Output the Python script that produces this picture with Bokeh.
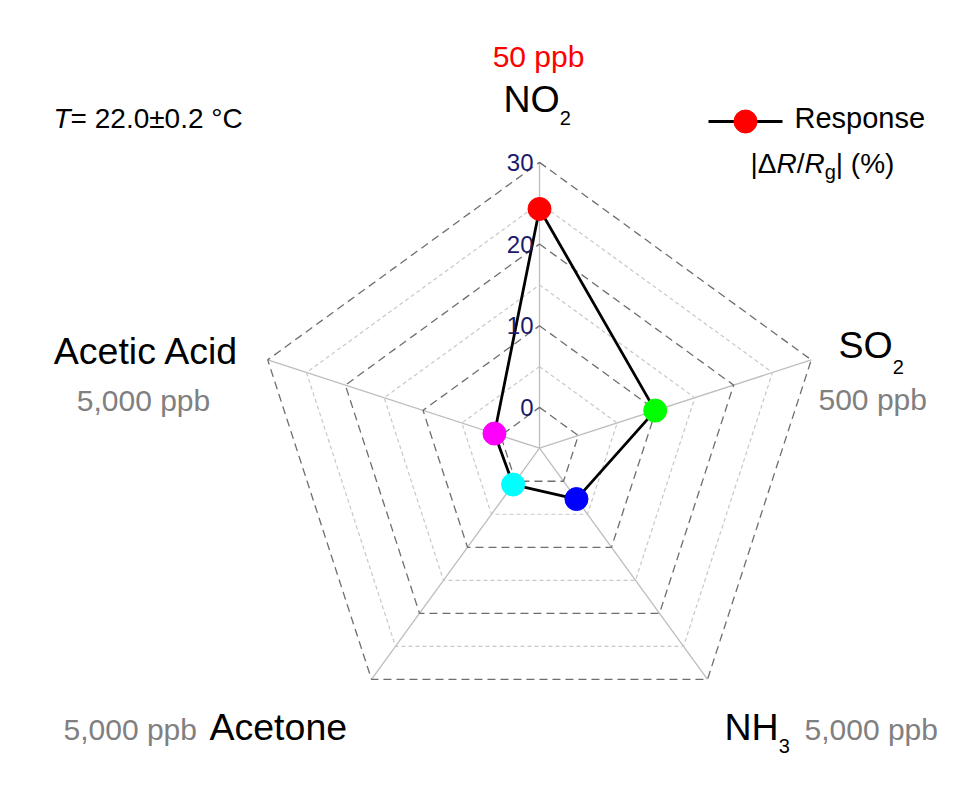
import math
from bokeh.plotting import figure
from bokeh.models import Range1d, ColumnDataSource
from bokeh.core.properties import value
from bokeh.embed import file_html
from bokeh.resources import INLINE

# ---------------- data ----------------
gases = ["NO2", "SO2", "NH3", "Acetone", "Acetic Acid"]
concentrations = ["50 ppb", "500 ppb", "5,000 ppb", "5,000 ppb", "5,000 ppb"]
response = [24.3, 9.9, 2.7, 0.5, 0.8]          # |dR/Rg| (%)
point_colors = ["#ff0000", "#00ff00", "#0000ff", "#00ffff", "#ff00ff"]
tick_values = [0, 10, 20, 30]
tick_labels = ["0", "10", "20", "30"]
major_rings = [0, 10, 20, 30]
minor_rings = [5, 15, 25]
r_min, r_max = -5, 30

# ---------------- geometry ----------------
W, H = 968, 800
CX, CY = 539.0, 447.7
R_OUT = 285.8
FONT = "Liberation Sans"

def rad(v):
    return (v - r_min) / (r_max - r_min) * R_OUT

n = len(gases)
angles = [math.radians(90 - 360.0 / n * i) for i in range(n)]

def pt(v, i):
    r = rad(v)
    return CX + r * math.cos(angles[i]), CY - r * math.sin(angles[i])

p = figure(width=W, height=H, x_range=Range1d(0, W), y_range=Range1d(H, 0),
           output_backend="svg", toolbar_location=None, min_border=0,
           x_axis_location=None, y_axis_location=None)
p.grid.visible = False
p.outline_line_color = None
p.background_fill_color = "white"
p.border_fill_color = "white"

# spokes
sx, sy = [], []
for i in range(n):
    x1, y1 = pt(r_max, i)
    sx.append([CX, x1]); sy.append([CY, y1])
p.multi_line(sx, sy, line_color="#bdbdbd", line_width=1.3)

# rings
def ring(v):
    xs, ys = [], []
    for i in list(range(n)) + [0]:
        x, y = pt(v, i)
        xs.append(x); ys.append(y)
    return xs, ys

mx = [ring(v)[0] for v in minor_rings]; my = [ring(v)[1] for v in minor_rings]
p.multi_line(mx, my, line_color="#c8c8c8", line_width=1.2, line_dash="4 3")
Mx = [ring(v)[0] for v in major_rings]; My = [ring(v)[1] for v in major_rings]
p.multi_line(Mx, My, line_color="#6e6e6e", line_width=1.3, line_dash="8 5")

# response polygon
px = [pt(v, i)[0] for i, v in enumerate(response)]
py = [pt(v, i)[1] for i, v in enumerate(response)]
p.line(px + [px[0]], py + [py[0]], line_color="black", line_width=2.8)
p.scatter(px, py, size=23, fill_color=point_colors, line_color=point_colors)

# tick labels
tx = [CX - 6] * len(tick_values)
ty = [pt(v, 0)[1] for v in tick_values]
p.text(tx, ty, text=tick_labels, text_font=value(FONT), text_font_size="24px",
       text_color="#1a1a6b", text_align="right", text_baseline="middle")

# ---------------- texts ----------------
CW = {'0': .556, '1': .556, '2': .556, '3': .556, '4': .556, '5': .556, '6': .556,
      '7': .556, '8': .556, '9': .556, ' ': .278, ',': .278, '.': .278, 'p': .556,
      'b': .556, 'A': .667, 'c': .5, 'e': .556, 't': .278, 'i': .222, 'd': .556,
      'o': .556, 'n': .556, 'N': .722, 'O': .778, 'S': .667, 'H': .722, 'T': .611,
      '=': .584, '±': .584, '°': .4, 'C': .722, 'R': .722, 's': .5, '|': .26,
      'Δ': .668, '/': .278, 'g': .556, '(': .333, ')': .333, '%': .889}

def width(t, size):
    return sum(CW.get(c, .556) for c in t) * size

T = dict(x=[], y=[], text=[], size=[], style=[], color=[])

def add_runs(runs, x, y, align="left"):
    # y is the desired alphabetic baseline; drawn with "middle" baseline
    total = sum(width(r[0], r[1]) for r in runs)
    if align == "center":
        x -= total / 2
    elif align == "right":
        x -= total
    for (t, size, style, color, dy) in runs:
        T["x"].append(x); T["y"].append(y + dy - 0.358 * size); T["text"].append(t)
        T["size"].append("%gpx" % size); T["style"].append(style); T["color"].append(color)
        x += width(t, size)

BIG, SUB, CONC = 37.5, 20, 30
GRAY = "#808080"

# NO2 (top)
add_runs([(concentrations[0], CONC, "normal", "#ff0000", 0)], 538, 67, "center")
add_runs([("NO", BIG, "normal", "black", 0), ("2", SUB, "normal", "black", 13)], 503, 111.7)
# SO2
add_runs([("SO", BIG, "normal", "black", 0), ("2", SUB, "normal", "black", 15)], 838, 358.3)
add_runs([(concentrations[1], CONC, "normal", GRAY, 0)], 818, 410)
# NH3
add_runs([("NH", BIG, "normal", "black", 0), ("3", SUB, "normal", "black", 13)], 724, 740)
add_runs([(concentrations[2], CONC, "normal", GRAY, 0)], 804, 740)
# Acetone
add_runs([(concentrations[3], CONC, "normal", GRAY, 0)], 63, 740)
add_runs([(gases[3], BIG, "normal", "black", 0)], 209, 740)
# Acetic Acid
add_runs([(gases[4], BIG, "normal", "black", 0)], 146, 364, "center")
add_runs([(concentrations[4], CONC, "normal", GRAY, 0)], 143, 410.7, "center")
# temperature
add_runs([("T", 28, "italic", "black", 0), ("= 22.0±0.2 °C", 28, "normal", "black", 0)], 53, 128.3)
# legend
add_runs([("Response", 29, "normal", "black", 0)], 794, 128)
add_runs([("|Δ", 28, "normal", "black", 0), ("R", 28, "italic", "black", 0),
          ("/", 28, "normal", "black", 0), ("R", 28, "italic", "black", 0),
          ("g", SUB, "normal", "black", 5), ("| (%)", 28, "normal", "black", 0)], 750, 173.3)

src = ColumnDataSource(T)
p.text("x", "y", text="text", source=src, text_font=value(FONT), text_font_size="size",
       text_font_style="style", text_color="color", text_align="left",
       text_baseline="middle")

# legend marker
lgx = [708, 782]
p.line(lgx, [121, 121], line_color="black", line_width=2.8)
p.scatter([sum(lgx) / 2], [121], size=23, fill_color="#ff0000", line_color="#ff0000")

open("out.html", "w").write(file_html(p, INLINE))
